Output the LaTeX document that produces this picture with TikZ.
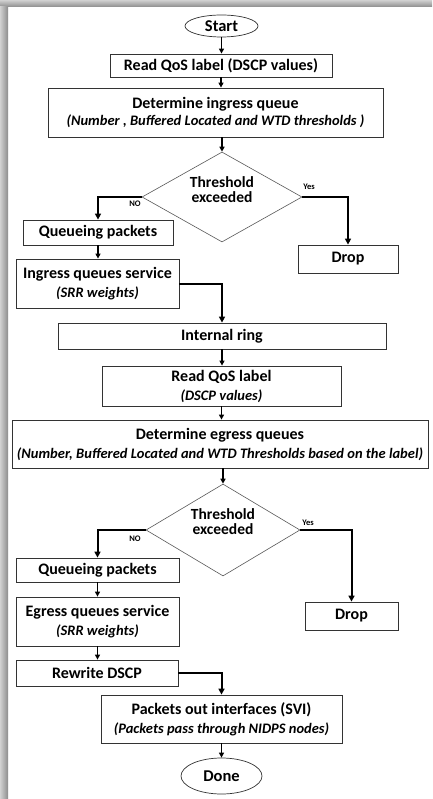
\documentclass[tikz,border=0pt]{standalone}
\usepackage{fontspec}
\setmainfont{Carlito}
\usetikzlibrary{arrows.meta,shapes.geometric}
\newcommand{\subline}[1]{{\fontsize{14.5}{16}\selectfont\itshape #1}}
\begin{document}
\begin{tikzpicture}[x=1pt,y=-1pt,
  box/.style={draw=black!80, line width=0.8pt, rectangle, inner sep=0pt,
    align=center, font=\fontsize{16}{20}\selectfont\bfseries},
  term/.style={draw=black!80, line width=0.7pt, ellipse, inner sep=0pt,
    font=\fontsize{16.5}{20}\selectfont\bfseries},
  decision/.style={draw=black!65, line width=0.6pt, diamond, inner sep=0pt},
  dtext/.style={align=center, font=\fontsize{15.5}{15}\selectfont\bfseries},
  tag/.style={font=\fontsize{8.5}{10}\selectfont\bfseries},
  flow/.style={line width=1.3pt, -{Triangle[length=5pt,width=5pt]}},
  branch/.style={line width=2pt, -{Triangle[length=6pt,width=6pt]}}
]
% page with a soft shadow along the top and left edges
\useasboundingbox (0,0) rectangle (432,799);
\fill[white] (0,0) rectangle (432,799);
\shade[top color=black!18, bottom color=black!45] (0,0) rectangle (432,7);
\shade[left color=black!18, right color=black!45] (0,7) rectangle (8,799);

% ingress part
\node[term, minimum width=73pt, minimum height=22pt] (start) at (221.5,26) {Start};
\node[box, minimum width=222pt, minimum height=23pt] (read1) at (221,65.5) {Read QoS label (DSCP values)};
\node[box, minimum width=335pt, minimum height=49pt] (det1) at (215.5,112.5)
  {Determine ingress queue\\[-3pt]\subline{(Number , Buffered Located and WTD thresholds )}};
\node[decision, minimum width=160pt, minimum height=90pt] (dec1) at (222,197) {};
\node[dtext] (dec1t) at (222,190) {Threshold\\exceeded};
\node[box, minimum width=150pt, minimum height=25pt] (q1) at (98,232.5) {Queueing packets};
\node[box, minimum width=100pt, minimum height=28pt] (drop1) at (348,259) {Drop};
\node[box, minimum width=163pt, minimum height=49pt] (ing) at (97.5,283.5)
  {Ingress queues service\\[-1pt]\subline{(SRR weights)}};

% internal ring and egress part
\node[box, minimum width=328pt, minimum height=26pt] (ring) at (222,336) {Internal ring};
\node[box, minimum width=239pt, minimum height=40pt] (read2) at (221.5,386)
  {Read QoS label\\[-1pt]\subline{(DSCP values)}};
\node[box, minimum width=416pt, minimum height=48pt] (det2) at (220,444)
  {Determine egress queues\\[-1pt]\subline{(Number, Buffered Located and WTD Thresholds based on the label)}};
\node[decision, minimum width=154pt, minimum height=92pt] (dec2) at (223,530) {};
\node[dtext] (dec2t) at (223,522) {Threshold\\exceeded};
\node[box, minimum width=163pt, minimum height=24pt] (q2) at (97.5,570) {Queueing packets};
\node[box, minimum width=93pt, minimum height=28pt] (drop2) at (351.5,616) {Drop};
\node[box, minimum width=163pt, minimum height=49pt] (egr) at (97.5,621.5)
  {Egress queues service\\[-1pt]\subline{(SRR weights)}};
\node[box, minimum width=162pt, minimum height=26pt] (rew) at (97,673) {Rewrite DSCP};
\node[box, minimum width=241pt, minimum height=48pt] (out) at (221.5,719)
  {Packets out interfaces (SVI)\\[-1pt]\subline{(Packets pass through NIDPS nodes)}};
\node[term, minimum width=81pt, minimum height=36pt] (done) at (221.5,776) {Done};

% branch labels
\node[tag] (no1) at (135,204) {NO};
\node[tag] (yes1) at (309,187) {Yes};
\node[tag] (no2) at (135,539) {NO};
\node[tag] (yes2) at (308,523) {Yes};

% connectors
\draw[flow] (start.south) -- (start.south |- read1.north);
\draw[flow] (read1.south) -- (read1.south |- det1.north);
\draw[flow] (det1.south -| dec1.north) -- (dec1.north);
\draw[branch] (dec1.west) -| (q1.north);
\draw[branch] (dec1.east) -| (drop1.north);
\draw[flow] (q1.south) -- (q1.south |- ing.north);
\draw[branch] (ing.east |- 0,284) -| (ring.north);
\draw[flow] (ring.south) -- (ring.south |- read2.north);
\draw[flow] (read2.south) -- (read2.south |- det2.north);
\draw[flow] (det2.south -| dec2.north) -- (dec2.north);
\draw[branch] (dec2.west) -| (q2.north);
\draw[branch] (dec2.east) -| (drop2.north);
\draw[flow] (q2.south) -- (q2.south |- egr.north);
\draw[flow] (egr.south) -- (egr.south |- rew.north);
\draw[branch] (rew.east) -| (out.north);
\draw[flow] (out.south) -- (out.south |- done.north);
\end{tikzpicture}
\end{document}
